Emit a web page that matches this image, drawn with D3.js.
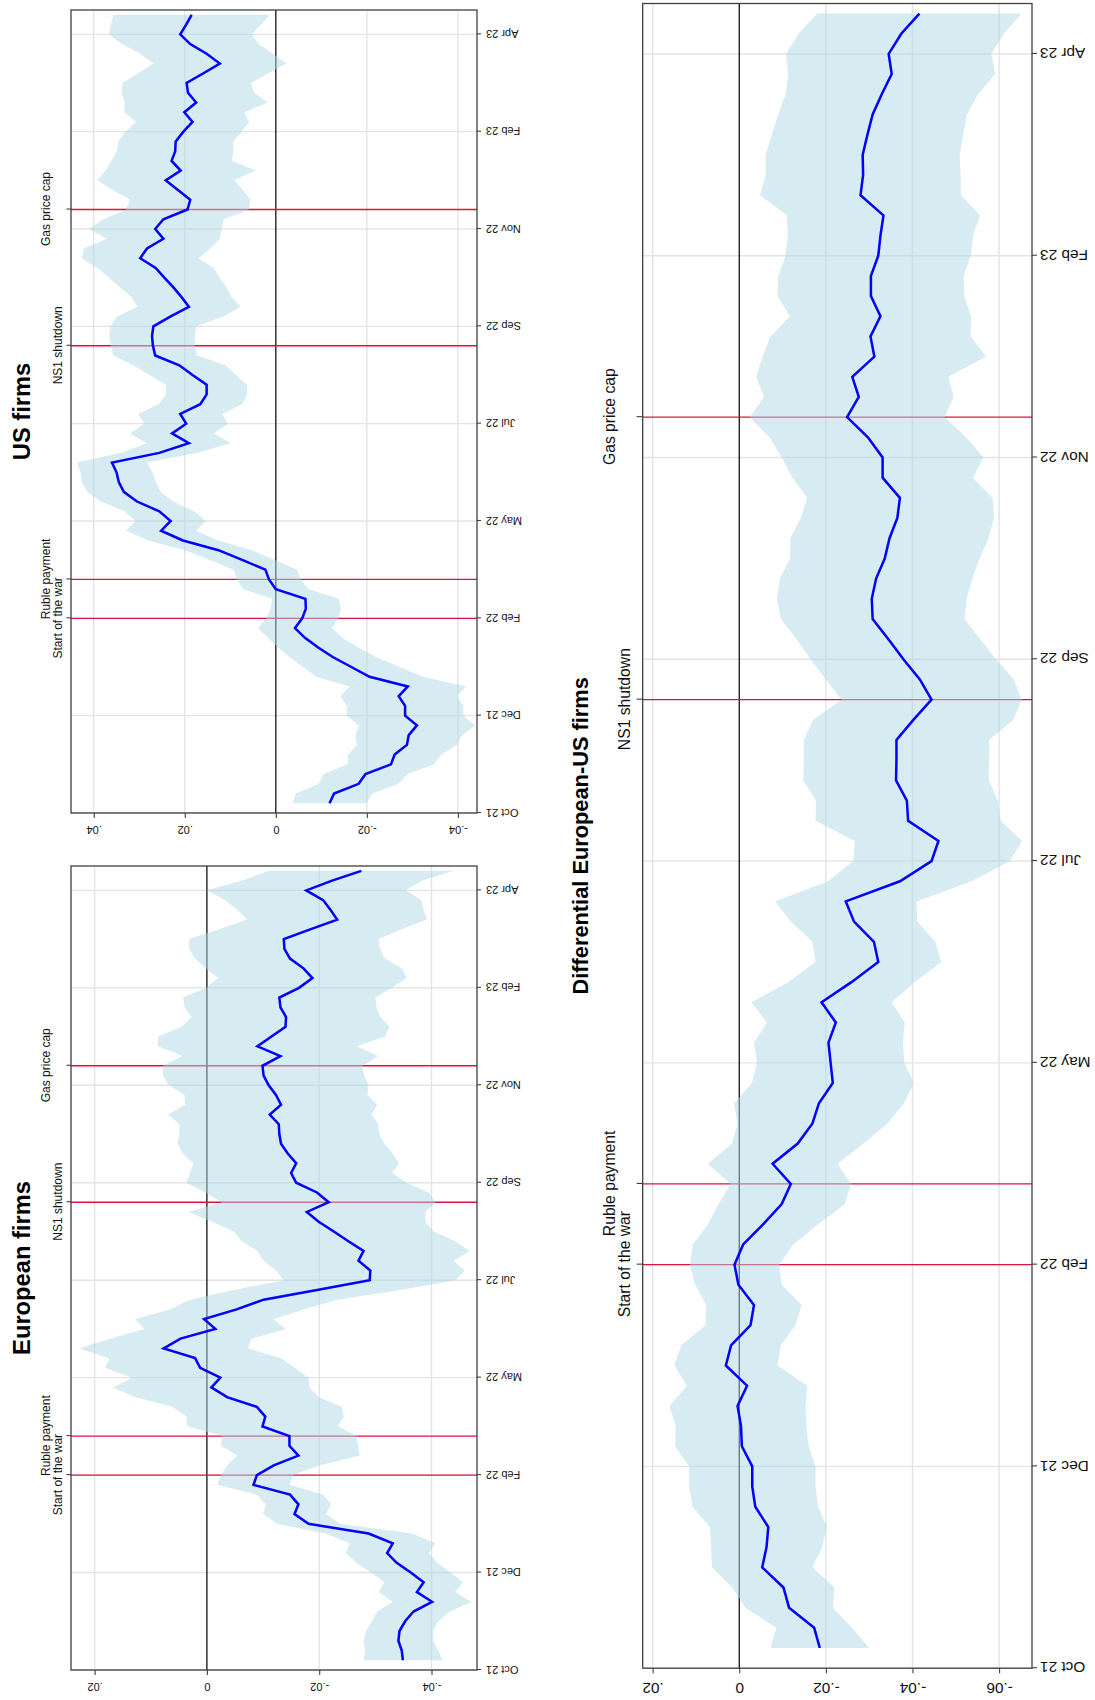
<!DOCTYPE html>
<html>
<head>
<meta charset="utf-8">
<script src="https://cdn.jsdelivr.net/npm/d3@7"></script>
<style>
  html, body { margin: 0; padding: 0; background: #fff; }
  svg { display: block; font-family: "Liberation Sans", Arial, Helvetica, sans-serif; }
</style>
</head>
<body>
<svg id="chart" width="1095" height="1700"></svg>
<script>
// ---------- data (weekly, week 0 = week of 4 Oct 2021) ----------
const weeks = d3.range(1, 83);
const tickWeeks = [0, 10, 20, 30, 40, 50, 60, 70, 80];
const tickLabels = ["Oct 21", "Dec 21", "Feb 22", "May 22", "Jul 22", "Sep 22", "Nov 22", "Feb 23", "Apr 23"];
const eventWeeks = [20, 24, 48, 62];
const eventLabels = ["Start of the war", "Ruble payment", "NS1 shutdown", "Gas price cap"];
const eventRow = [1, 0, 1, 0];

const euMean = [-0.0349,-0.0347,-0.0341,-0.0343,-0.0353,-0.0368,-0.0401,-0.0374,-0.0386,-0.0363,
 -0.0338,-0.0321,-0.0331,-0.0288,-0.0181,-0.0156,-0.0163,-0.0148,-0.0083,-0.0089,
 -0.0119,-0.0163,-0.0147,-0.0147,-0.0099,-0.0104,-0.0089,-0.0036,-0.0008,-0.0024,
 0.0012,0.0021,0.0077,0.0047,-0.0015,0.0005,-0.0053,-0.0101,-0.0196,-0.0290,
 -0.0291,-0.0270,-0.0279,-0.0252,-0.0226,-0.0199,-0.0178,-0.0217,-0.0196,-0.0159,
 -0.0150,-0.0159,-0.0144,-0.0132,-0.0129,-0.0128,-0.0112,-0.0132,-0.0123,-0.0110,
 -0.0101,-0.0099,-0.0131,-0.0090,-0.0115,-0.0140,-0.0141,-0.0131,-0.0129,-0.0164,
 -0.0188,-0.0172,-0.0148,-0.0138,-0.0137,-0.0184,-0.0232,-0.0220,-0.0207,-0.0177,
 -0.0223,-0.0275];
const euHalf = [0.0070,0.0065,0.0062,0.0059,0.0059,0.0065,0.0070,0.0068,0.0070,0.0071,
 0.0072,0.0074,0.0076,0.0077,0.0056,0.0056,0.0058,0.0059,0.0064,0.0064,
 0.0083,0.0109,0.0122,0.0119,0.0134,0.0140,0.0151,0.0163,0.0175,0.0157,
 0.0169,0.0153,0.0150,0.0126,0.0126,0.0123,0.0119,0.0131,0.0148,0.0153,
 0.0168,0.0169,0.0189,0.0190,0.0178,0.0190,0.0211,0.0190,0.0199,0.0196,
 0.0180,0.0183,0.0187,0.0184,0.0178,0.0177,0.0181,0.0171,0.0163,0.0178,
 0.0179,0.0178,0.0174,0.0177,0.0202,0.0185,0.0168,0.0171,0.0171,0.0165,
 0.0168,0.0175,0.0169,0.0170,0.0169,0.0162,0.0160,0.0166,0.0175,0.0177,
 0.0160,0.0165];

const usMean = [-0.0118,-0.0128,-0.0182,-0.0197,-0.0253,-0.0261,-0.0288,-0.0292,-0.0310,-0.0284,
 -0.0284,-0.0270,-0.0290,-0.0206,-0.0166,-0.0126,-0.0093,-0.0064,-0.0042,-0.0058,
 -0.0066,-0.0065,0.0000,0.0015,0.0023,0.0074,0.0126,0.0204,0.0252,0.0231,
 0.0256,0.0305,0.0334,0.0345,0.0350,0.0360,0.0256,0.0191,0.0228,0.0197,
 0.0210,0.0166,0.0152,0.0152,0.0183,0.0212,0.0265,0.0270,0.0272,0.0269,
 0.0232,0.0191,0.0207,0.0225,0.0245,0.0264,0.0298,0.0283,0.0247,0.0265,
 0.0247,0.0194,0.0188,0.0215,0.0242,0.0209,0.0229,0.0221,0.0220,0.0203,
 0.0183,0.0201,0.0175,0.0193,0.0196,0.0159,0.0123,0.0152,0.0188,0.0210,
 0.0197,0.0185];
const usHalf = [0.0081,0.0084,0.0088,0.0092,0.0095,0.0102,0.0110,0.0117,0.0128,0.0128,
 0.0128,0.0128,0.0128,0.0117,0.0106,0.0095,0.0088,0.0082,0.0081,0.0079,
 0.0077,0.0073,0.0072,0.0070,0.0070,0.0072,0.0073,0.0077,0.0077,0.0077,
 0.0077,0.0079,0.0081,0.0081,0.0079,0.0077,0.0084,0.0092,0.0092,0.0092,
 0.0092,0.0092,0.0089,0.0089,0.0095,0.0102,0.0092,0.0092,0.0094,0.0094,
 0.0117,0.0113,0.0110,0.0117,0.0121,0.0128,0.0128,0.0139,0.0124,0.0146,
 0.0132,0.0135,0.0132,0.0143,0.0150,0.0165,0.0132,0.0128,0.0126,0.0128,
 0.0124,0.0132,0.0157,0.0146,0.0141,0.0143,0.0146,0.0146,0.0150,0.0157,
 0.0165,0.0172];

const diffMean = [-0.0186,-0.0173,-0.0115,-0.0102,-0.0053,-0.0063,-0.0067,-0.0037,-0.0030,-0.0030,
 -0.0006,-0.0004,0.0004,-0.0018,0.0031,0.0019,-0.0026,-0.0034,0.0002,0.0011,
 -0.0009,-0.0055,-0.0098,-0.0119,-0.0077,-0.0135,-0.0169,-0.0184,-0.0216,-0.0211,
 -0.0206,-0.0223,-0.0190,-0.0259,-0.0321,-0.0311,-0.0265,-0.0246,-0.0371,-0.0444,
 -0.0460,-0.0390,-0.0387,-0.0362,-0.0363,-0.0363,-0.0402,-0.0444,-0.0417,-0.0379,
 -0.0344,-0.0308,-0.0306,-0.0316,-0.0336,-0.0347,-0.0365,-0.0371,-0.0331,-0.0331,
 -0.0297,-0.0249,-0.0276,-0.0261,-0.0312,-0.0303,-0.0326,-0.0304,-0.0304,-0.0321,
 -0.0326,-0.0333,-0.0280,-0.0286,-0.0285,-0.0296,-0.0308,-0.0329,-0.0352,-0.0345,
 -0.0374,-0.0416];
const diffHalf = [0.0114,0.0087,0.0101,0.0118,0.0116,0.0128,0.0135,0.0145,0.0146,0.0146,
 0.0154,0.0151,0.0157,0.0139,0.0119,0.0115,0.0104,0.0110,0.0100,0.0103,
 0.0116,0.0127,0.0146,0.0139,0.0150,0.0152,0.0173,0.0196,0.0187,0.0170,
 0.0172,0.0159,0.0162,0.0146,0.0145,0.0142,0.0146,0.0163,0.0166,0.0181,
 0.0193,0.0214,0.0210,0.0214,0.0214,0.0214,0.0231,0.0208,0.0217,0.0214,
 0.0212,0.0212,0.0219,0.0222,0.0219,0.0229,0.0223,0.0214,0.0208,0.0233,
 0.0227,0.0225,0.0219,0.0222,0.0258,0.0231,0.0209,0.0216,0.0214,0.0214,
 0.0214,0.0223,0.0232,0.0225,0.0224,0.0221,0.0218,0.0222,0.0239,0.0237,
 0.0237,0.0236];

const euTicks = [0.02, 0, -0.02, -0.04];
const usTicks = [0.04, 0.02, 0, -0.02, -0.04];
const diffTicks = [0.02, 0, -0.02, -0.04, -0.06];

// ---------- drawing (built in landscape, then rotated 90deg counter-clockwise) ----------
const svg = d3.select("#chart");
const root = svg.append("g").attr("transform", "translate(0,1700) rotate(-90)");

const locale = d3.formatLocale({ decimal: ".", thousands: ",", grouping: [3], currency: ["", ""], minus: "-" });
const f2 = locale.format(".2f");
const fmt = v => v === 0 ? "0" : f2(v).replace("0.", ".");

function drawPanel(cfg) {
  const g = root.append("g");
  const x = d3.scaleLinear().domain([0, 82.5]).range([cfg.x0, cfg.x1]);
  const y = d3.scaleLinear().domain(cfg.yDomain).range([cfg.yBottom, cfg.yTop]);

  // grid
  g.append("g").selectAll("line").data(cfg.yTicks.filter(v => v !== 0)).join("line")
    .attr("x1", cfg.x0).attr("x2", cfg.x1)
    .attr("y1", d => y(d)).attr("y2", d => y(d))
    .attr("stroke", "#e4e4e4").attr("stroke-width", 1.4);
  g.append("g").selectAll("line").data(tickWeeks).join("line")
    .attr("x1", d => x(d)).attr("x2", d => x(d))
    .attr("y1", cfg.yTop).attr("y2", cfg.yBottom)
    .attr("stroke", "#e4e4e4").attr("stroke-width", 1.4);

  // zero line
  g.append("line").attr("x1", cfg.x0).attr("x2", cfg.x1)
    .attr("y1", y(0)).attr("y2", y(0))
    .attr("stroke", "#111").attr("stroke-width", 1.3);

  // event lines
  g.append("g").selectAll("line").data(eventWeeks).join("line")
    .attr("x1", d => x(d)).attr("x2", d => x(d))
    .attr("y1", cfg.yTop).attr("y2", cfg.yBottom)
    .attr("stroke", "#dc143c").attr("stroke-width", 1.4);

  // confidence band
  const area = d3.area()
    .x((d, i) => x(weeks[i]))
    .y0((d, i) => y(cfg.mean[i] - cfg.half[i]))
    .y1((d, i) => y(cfg.mean[i] + cfg.half[i]));
  g.append("path").datum(cfg.mean).attr("d", area)
    .attr("fill", "lightblue").attr("fill-opacity", 0.5);

  // mean line
  const line = d3.line().x((d, i) => x(weeks[i])).y(d => y(d));
  g.append("path").datum(cfg.mean).attr("d", line)
    .attr("fill", "none").attr("stroke", "#0000ff").attr("stroke-width", 2.5)
    .attr("stroke-linejoin", "miter");

  // frame
  g.append("rect").attr("x", cfg.x0).attr("y", cfg.yTop)
    .attr("width", cfg.x1 - cfg.x0).attr("height", cfg.yBottom - cfg.yTop)
    .attr("fill", "none").attr("stroke", "#3f3f3f").attr("stroke-width", 1.3);

  // value axis (left in landscape)
  const ya = g.append("g").attr("transform", `translate(${cfg.x0},0)`)
    .call(d3.axisLeft(y).tickValues(cfg.yTicks).tickFormat(fmt).tickSize(5).tickPadding(0));
  ya.select(".domain").remove();
  ya.selectAll(".tick line").attr("stroke", "#3f3f3f").attr("stroke-width", 1.1);
  ya.selectAll(".tick text")
    .attr("x", 0).attr("dy", null).attr("text-anchor", "middle")
    .attr("transform", `translate(${-cfg.valOff},0) rotate(-90)`)
    .attr("font-size", cfg.tickFont).attr("fill", "#111")
    .attr("font-family", '"Liberation Sans", Arial, sans-serif');

  // date axis (bottom in landscape)
  const xa = g.append("g").attr("transform", `translate(0,${cfg.yBottom})`)
    .call(d3.axisBottom(x).tickValues(tickWeeks).tickFormat((d, i) => tickLabels[i]).tickSize(cfg.dateTick).tickPadding(0));
  xa.select(".domain").remove();
  xa.selectAll(".tick line").attr("stroke", "#3f3f3f").attr("stroke-width", 1.1);
  xa.selectAll(".tick text")
    .attr("y", 0).attr("x", 0).attr("dy", "0.35em").attr("text-anchor", "end")
    .attr("transform", `translate(0,${cfg.dateOff}) rotate(-90)`)
    .attr("font-size", cfg.tickFont).attr("fill", "#111")
    .attr("font-family", '"Liberation Sans", Arial, sans-serif');

  // event axis (top in landscape)
  const ea = g.append("g").attr("transform", `translate(0,${cfg.yTop})`)
    .call(d3.axisTop(x).tickValues(eventWeeks).tickFormat((d, i) => eventLabels[i]).tickSize(cfg.evTick).tickPadding(0));
  ea.select(".domain").remove();
  ea.selectAll(".tick line").attr("stroke", "#3f3f3f").attr("stroke-width", 1.1);
  ea.selectAll(".tick text")
    .attr("dy", null)
    .attr("y", (d, i) => cfg.evBase[eventRow[i]] - cfg.yTop)
    .attr("text-anchor", "middle")
    .attr("font-size", cfg.evFont).attr("fill", "#111")
    .attr("font-family", '"Liberation Sans", Arial, sans-serif');

  // title
  g.append("text").attr("x", (cfg.x0 + cfg.x1) / 2).attr("y", cfg.titleBase)
    .attr("text-anchor", "middle").attr("font-weight", "bold")
    .attr("font-size", cfg.titleFont).attr("fill", "#000")
    .text(cfg.title);
}

drawPanel({
  title: "European firms", mean: euMean, half: euHalf, yTicks: euTicks,
  x0: 30, x1: 834, yTop: 71, yBottom: 477, yDomain: [-0.0481, 0.0242],
  tickFont: 11, evFont: 12, titleFont: 23.7, titleBase: 30,
  valOff: 13, dateOff: 9, dateTick: 4, evTick: 4.5, evBase: [49.5, 62]
});
drawPanel({
  title: "US firms", mean: usMean, half: usHalf, yTicks: usTicks,
  x0: 887, x1: 1690, yTop: 71, yBottom: 477, yDomain: [-0.0442, 0.0450],
  tickFont: 11, evFont: 12, titleFont: 23.7, titleBase: 30,
  valOff: 13, dateOff: 9, dateTick: 4, evTick: 4.5, evBase: [49.5, 62]
});
drawPanel({
  title: "Differential European-US firms", mean: diffMean, half: diffHalf, yTicks: diffTicks,
  x0: 31.8, x1: 1696.5, yTop: 642.7, yBottom: 1032, yDomain: [-0.0676, 0.0223],
  tickFont: 15.4, evFont: 15.7, titleFont: 21.8, titleBase: 588,
  valOff: 15, dateOff: 8, dateTick: 5, evTick: 6, evBase: [614.5, 630]
});
</script>
</body>
</html>
